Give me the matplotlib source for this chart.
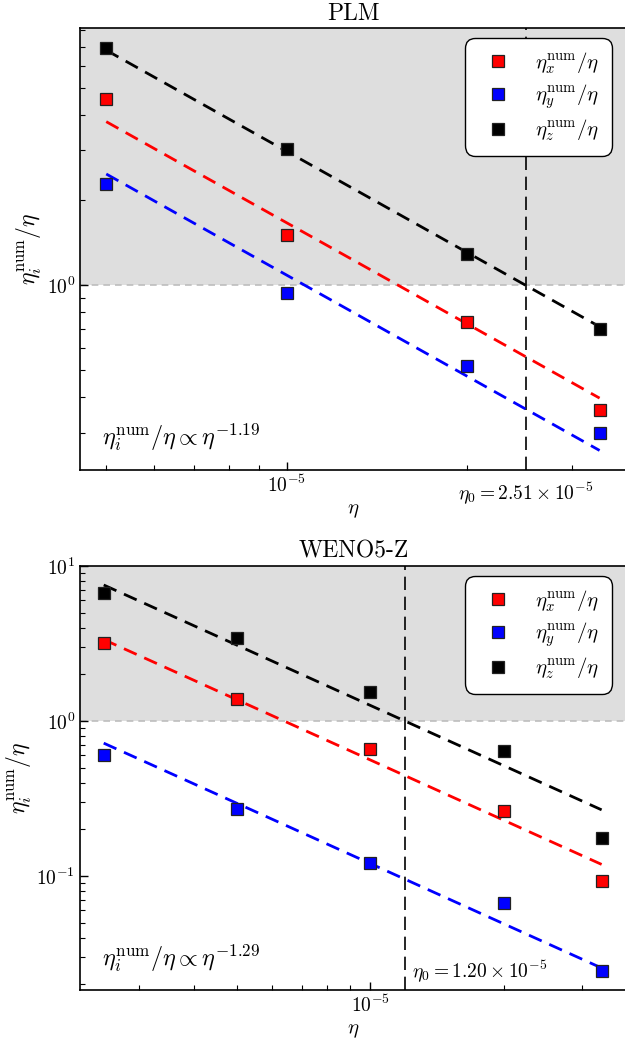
import numpy as np
import matplotlib
matplotlib.use("Agg")
import matplotlib.pyplot as plt
from matplotlib.ticker import NullFormatter, LogLocator
import matplotlib.transforms as mtransforms

plt.rcParams['mathtext.fontset'] = 'cm'
plt.rcParams['font.family'] = ['cmr10', 'DejaVu Serif']
plt.rcParams['axes.formatter.use_mathtext'] = True

# ---- data ----
plm_eta = [5e-6, 1e-5, 2e-5, 3.33e-5]
plm_x = [4.58, 1.50, 0.739, 0.360]
plm_y = [2.28, 0.939, 0.517, 0.299]
plm_z = [6.91, 3.03, 1.288, 0.698]
plm_slope = -1.19
plm_eta0 = 2.51e-5
plm_eta0_label = r'$\eta_0 = 2.51\times10^{-5}$'
plm_slope_label = r'$\eta_i^{\rm num}/\eta \propto \eta^{-1.19}$'

weno_eta = [2.5e-6, 5e-6, 1e-5, 2e-5, 3.33e-5]
weno_x = [3.17, 1.38, 0.663, 0.261, 0.0929]
weno_y = [0.601, 0.272, 0.1205, 0.0667, 0.0244]
weno_z = [6.73, 3.42, 1.545, 0.643, 0.177]
weno_slope = -1.29
weno_eta0 = 1.20e-5
weno_eta0_label = r'$\eta_0 = 1.20\times10^{-5}$'
weno_slope_label = r'$\eta_i^{\rm num}/\eta \propto \eta^{-1.29}$'

labels = [r'$\eta_x^{\rm num}/\eta$', r'$\eta_y^{\rm num}/\eta$', r'$\eta_z^{\rm num}/\eta$']
colors = ['red', 'blue', 'black']

W, H = 625, 1064
fig = plt.figure(figsize=(W / 100, H / 100), dpi=100)


def px_axes(l, r, t, b):
    return fig.add_axes([l / W, 1 - b / H, (r - l) / W, (b - t) / H])


def panel(ax, eta, series, slope, eta0, title, xlim, ylim, eta0_label, slope_label,
          eta0_inside, leg_top):
    ax.set_xscale('log')
    ax.set_yscale('log')
    ax.set_xlim(*xlim)
    ax.set_ylim(*ylim)
    ax.axhspan(1.0, ylim[1], color='#dedede', zorder=0, lw=0)
    ax.axhline(1.0, color='#bdbdbd', lw=1.2, ls=(0, (4, 3)), zorder=1)
    ax.axvline(eta0, color='black', lw=1.2, ls=(0, (8, 4)), zorder=1)
    e = np.array(eta)
    for vals, c, lab in zip(series, colors, labels):
        v = np.array(vals)
        # fixed-slope fit intercept
        logC = np.mean(np.log10(v) - slope * np.log10(e))
        fit = 10 ** (logC + slope * np.log10(e))
        ax.plot(e, fit, color=c, lw=2.0, ls=(0, (5, 3)), zorder=2)
        ax.plot(e, v, ls='none', marker='s', ms=8.5, mfc=c, mec='#222222',
                mew=0.9, label=lab, zorder=3)
    leg = ax.legend(loc='upper right', fontsize=15, frameon=True, fancybox=True,
                    framealpha=1, edgecolor='black', handletextpad=0.8,
                    labelspacing=0.33, borderpad=0.6, handlelength=2.0,
                    borderaxespad=0.0,
                    bbox_to_anchor=((612 - 80) / (627 - 80), leg_top))
    leg.get_frame().set_linewidth(1.0)
    leg.get_frame().set_boxstyle('round,pad=0,rounding_size=0.5')
    leg.set_zorder(5)
    ax.set_title(title, fontsize=17, pad=6)
    ax.set_xlabel(r'$\eta$', fontsize=15)
    ax.set_ylabel(r'$\eta_i^{\rm num}/\eta$', fontsize=17, labelpad=2)
    ax.tick_params(which='both', direction='in', top=False, right=False, labelsize=14)
    ax.tick_params(which='major', length=6, width=1)
    ax.tick_params(which='minor', length=3.5, width=0.8)
    ax.xaxis.set_minor_formatter(NullFormatter())
    ax.yaxis.set_minor_formatter(NullFormatter())
    ax.yaxis.set_major_locator(LogLocator(base=10, numticks=10))
    for s in ax.spines.values():
        s.set_linewidth(1.2)
    ax.text(0.04, 0.075, slope_label, transform=ax.transAxes, fontsize=17.5,
            ha='left', va='center')
    trans = mtransforms.blended_transform_factory(ax.transData, ax.transAxes)
    if eta0_inside:
        ax.text(eta0 * 1.035, 0.045, eta0_label, transform=trans, fontsize=14,
                ha='left', va='center')
    else:
        ax.text(eta0, -0.052, eta0_label, transform=trans, fontsize=14,
                ha='center', va='center')


ax1 = px_axes(80, 627, 28, 470)
panel(ax1, plm_eta, [plm_x, plm_y, plm_z], plm_slope, plm_eta0, 'PLM',
      (4.52e-6, 3.7e-5), (0.221, 8.15), plm_eta0_label, plm_slope_label, False,
      (470 - 38) / 442)

ax2 = px_axes(80, 627, 566, 990)
panel(ax2, weno_eta, [weno_x, weno_y, weno_z], weno_slope, weno_eta0, 'WENO5-Z',
      (2.21e-6, 3.8e-5), (0.0184, 10.0), weno_eta0_label, weno_slope_label, True,
      (990 - 576) / 424)

fig.savefig('out.png', dpi=100)
